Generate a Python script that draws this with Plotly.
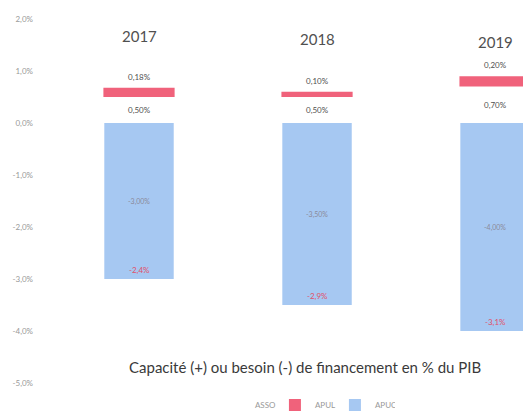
import plotly.graph_objects as go

years = ["2017", "2018", "2019"]
asso = [0.50, 0.50, 0.70]
apul = [0.18, 0.10, 0.20]
apuc = [-3.00, -3.50, -4.00]
totals = [-2.4, -2.9, -3.1]
ytick_vals = [2, 1, 0, -1, -2, -3, -4, -5]
ytick_text = ["2,0%", "1,0%", "0,0%", "-1,0%", "-2,0%", "-3,0%", "-4,0%", "-5,0%"]
title_text = "Capacité (+) ou besoin (-) de financement en % du PIB"

BLUE = "#a6c8f2"
RED = "#f0627b"

# the page body has an 8px default margin, so the figure is drawn 8px in
W, H = 523, 408


def fr(v, d=2):
    return f"{v:.{d}f}".replace(".", ",") + "%"


fig = go.Figure()
fig.add_bar(name="ASSO", x=years, y=asso, marker_color="white", width=0.39,
            marker_line_width=0)
fig.add_bar(name="APUL", x=years, y=apul, marker_color=RED, width=0.40,
            marker_line_width=0)
fig.add_bar(name="APUC", x=years, y=apuc, marker_color=BLUE, width=0.39,
            marker_line_width=0)

ann = []
year_y = [1.68, 1.61, 1.55]
for i, yr in enumerate(years):
    ann.append(dict(x=i, y=year_y[i], text=yr, showarrow=False,
                    font=dict(size=15, color="#505050", family="Lato")))
    ann.append(dict(x=i, y=asso[i] + apul[i], text=fr(apul[i]), showarrow=False,
                    yanchor="bottom", yshift=4,
                    font=dict(size=8, color="#505050", family="Lato")))
    ann.append(dict(x=i, y=asso[i] / 2, text=fr(asso[i]), showarrow=False,
                    font=dict(size=8, color="#505050", family="Lato")))
    ann.append(dict(x=i, y=apuc[i] / 2, text=fr(apuc[i]), showarrow=False,
                    font=dict(size=7, color="#8a8a9a", family="Lato")))
    ann.append(dict(x=i, y=apuc[i], text=fr(totals[i], 1), showarrow=False,
                    yanchor="bottom", yshift=2,
                    font=dict(size=8, color="#e0506a", family="Lato")))

ann.append(dict(x=0.53, xref="paper", y=(H - 370) / H, yref="paper",
                text=title_text, showarrow=False,
                font=dict(size=15, color="#3a3a3a", family="Lato")))

fig.update_layout(
    width=W, height=H,
    barmode="relative",
    margin=dict(l=42, r=0, t=0, b=0, autoexpand=False),
    paper_bgcolor="white", plot_bgcolor="white",
    font=dict(family="Lato", color="#444"),
    showlegend=True,
    legend=dict(orientation="h", x=0.53, xanchor="center", y=(H - 397) / H,
                yanchor="middle",
                font=dict(size=8, color="#999"), itemwidth=30, traceorder="normal",
                entrywidth=15, bgcolor="rgba(0,0,0,0)"),
    xaxis=dict(type="category", range=[-0.5, 2.202], showticklabels=False, showgrid=False,
               zeroline=False, showline=False),
    yaxis=dict(range=[-5.635, 2.212], tickvals=ytick_vals, ticktext=ytick_text,
               showgrid=False, zeroline=False, showline=False,
               tickfont=dict(size=8, color="#999"), ticklabelstandoff=16),
    annotations=ann,
)

fig.write_html("out.html")
